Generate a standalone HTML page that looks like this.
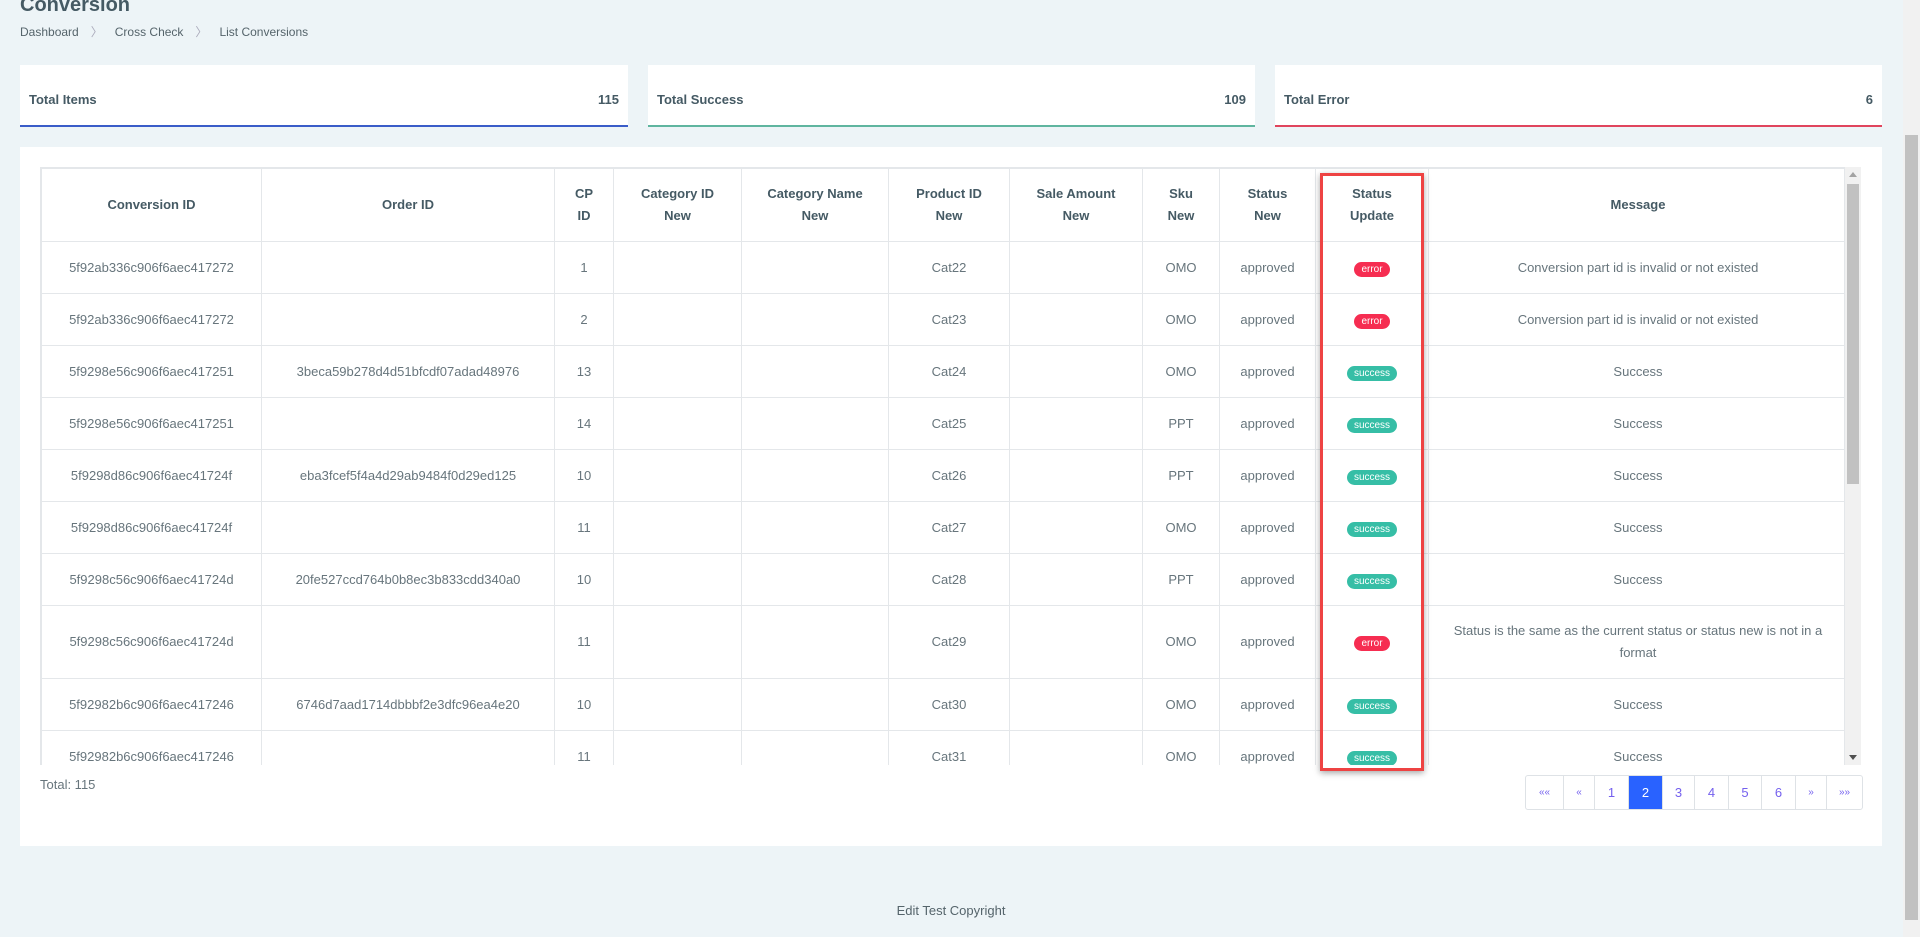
<!DOCTYPE html>
<html><head><meta charset="utf-8"><style>
*{box-sizing:border-box;margin:0;padding:0}
body{width:1920px;height:937px;background:#edf4f7;font-family:"Liberation Sans",sans-serif;color:#67757c;position:relative;overflow:hidden}
.abs{position:absolute}
.title{left:20px;top:-6px;font-size:20px;color:#455a64;font-weight:bold}
.bc{left:20px;top:23px;font-size:12px;color:#55646b}
.bc span{margin:0 12px;color:#aab}
.card{top:65px;height:62px;background:#fff;font-size:13px;color:#455a64;font-weight:bold;display:flex;justify-content:space-between;align-items:center;padding:8px 9px 0}
.main{left:20px;top:147px;width:1862px;height:699px;background:#fff}
.tw{left:40px;top:167px;width:1805px;height:598px;overflow:hidden;border:1px solid #e4e7ea;border-bottom:none}
table{border-collapse:collapse;table-layout:fixed;width:1806px;font-size:13px}
td,th{border:1px solid #e4e7ea;text-align:center;vertical-align:middle;padding:0 8px;line-height:22px}
th{color:#455a64;font-weight:bold;height:73px}
tr.r td{height:52px}
tr.t td{height:73px}
.b{display:inline-block;border-radius:10px;color:#fff;font-size:10px;line-height:15px;padding:0 7px}
.e{background:#f62d51}.s{background:#36bea6}
.sb{left:1845px;top:167px;width:16px;height:598px;background:#f1f1f1}
.redbox{left:1320px;top:173px;width:104px;height:598px;border:3px solid #ee4343;box-shadow:0 2px 6px rgba(0,0,0,.35)}
.pg{left:1525px;top:775px;height:35px;display:flex;border:1px solid #dee2e6;border-radius:3px;font-size:13px}
.pg div{border-left:1px solid #dee2e6;display:flex;align-items:center;justify-content:center;color:#7460ee}
.pg div:first-child{border-left:none}
</style></head><body>
<div class="abs title">Conversion</div>
<div class="abs bc">Dashboard<span>〉</span>Cross Check<span>〉</span>List Conversions</div>
<div class="abs card" style="left:20px;width:608px;border-bottom:2px solid #3a5cc8"><span>Total Items</span><span>115</span></div>
<div class="abs card" style="left:648px;width:607px;border-bottom:2px solid #5fb59f"><span>Total Success</span><span>109</span></div>
<div class="abs card" style="left:1275px;width:607px;border-bottom:2px solid #e0455d"><span>Total Error</span><span>6</span></div>
<div class="abs main"></div>
<div class="abs tw"><table>
<colgroup><col style="width:220px"><col style="width:293px"><col style="width:59px"><col style="width:128px"><col style="width:147px"><col style="width:121px"><col style="width:133px"><col style="width:77px"><col style="width:96px"><col style="width:113px"><col style="width:419px"></colgroup>
<tr><th>Conversion ID</th><th>Order ID</th><th>CP<br>ID</th><th>Category ID<br>New</th><th>Category Name<br>New</th><th>Product ID<br>New</th><th>Sale Amount<br>New</th><th>Sku<br>New</th><th>Status<br>New</th><th>Status<br>Update</th><th>Message</th></tr>
<tr class="r"><td>5f92ab336c906f6aec417272</td><td></td><td>1</td><td></td><td></td><td>Cat22</td><td></td><td>OMO</td><td>approved</td><td><span class="b e">error</span></td><td>Conversion part id is invalid or not existed</td></tr>
<tr class="r"><td>5f92ab336c906f6aec417272</td><td></td><td>2</td><td></td><td></td><td>Cat23</td><td></td><td>OMO</td><td>approved</td><td><span class="b e">error</span></td><td>Conversion part id is invalid or not existed</td></tr>
<tr class="r"><td>5f9298e56c906f6aec417251</td><td>3beca59b278d4d51bfcdf07adad48976</td><td>13</td><td></td><td></td><td>Cat24</td><td></td><td>OMO</td><td>approved</td><td><span class="b s">success</span></td><td>Success</td></tr>
<tr class="r"><td>5f9298e56c906f6aec417251</td><td></td><td>14</td><td></td><td></td><td>Cat25</td><td></td><td>PPT</td><td>approved</td><td><span class="b s">success</span></td><td>Success</td></tr>
<tr class="r"><td>5f9298d86c906f6aec41724f</td><td>eba3fcef5f4a4d29ab9484f0d29ed125</td><td>10</td><td></td><td></td><td>Cat26</td><td></td><td>PPT</td><td>approved</td><td><span class="b s">success</span></td><td>Success</td></tr>
<tr class="r"><td>5f9298d86c906f6aec41724f</td><td></td><td>11</td><td></td><td></td><td>Cat27</td><td></td><td>OMO</td><td>approved</td><td><span class="b s">success</span></td><td>Success</td></tr>
<tr class="r"><td>5f9298c56c906f6aec41724d</td><td>20fe527ccd764b0b8ec3b833cdd340a0</td><td>10</td><td></td><td></td><td>Cat28</td><td></td><td>PPT</td><td>approved</td><td><span class="b s">success</span></td><td>Success</td></tr>
<tr class="t"><td>5f9298c56c906f6aec41724d</td><td></td><td>11</td><td></td><td></td><td>Cat29</td><td></td><td>OMO</td><td>approved</td><td><span class="b e">error</span></td><td>Status is the same as the current status or status new is not in a format</td></tr>
<tr class="r"><td>5f92982b6c906f6aec417246</td><td>6746d7aad1714dbbbf2e3dfc96ea4e20</td><td>10</td><td></td><td></td><td>Cat30</td><td></td><td>OMO</td><td>approved</td><td><span class="b s">success</span></td><td>Success</td></tr>
<tr class="r"><td>5f92982b6c906f6aec417246</td><td></td><td>11</td><td></td><td></td><td>Cat31</td><td></td><td>OMO</td><td>approved</td><td><span class="b s">success</span></td><td>Success</td></tr>
</table></div>
<div class="abs sb"><div class="abs" style="left:4px;top:5px;border:4px solid transparent;border-bottom:5px solid #a3a3a3;border-top:none"></div><div class="abs" style="left:2px;top:17px;width:12px;height:300px;background:#c1c1c1"></div><div class="abs" style="left:4px;top:588px;border:4px solid transparent;border-top:5px solid #505050;border-bottom:none"></div></div>
<div class="abs redbox"></div>
<div class="abs" style="left:40px;top:777px;font-size:13px">Total: 115</div>
<div class="abs pg">
<div style="width:37px;font-size:10px">««</div><div style="width:31px;font-size:10px">«</div><div style="width:34px">1</div><div style="width:34px;background:#2962ff;color:#fff">2</div><div style="width:32px">3</div><div style="width:34px">4</div><div style="width:33px">5</div><div style="width:34px">6</div><div style="width:31px;font-size:10px">»</div><div style="width:36px;font-size:10px">»»</div>
</div>
<div class="abs" style="left:0;width:1902px;top:903px;text-align:center;font-size:13px;color:#55646b">Edit Test Copyright</div>
<div class="abs" style="left:1903px;top:0;width:17px;height:937px;background:#f1f1f1"><div class="abs" style="left:2px;top:135px;width:13px;height:785px;background:#c1c1c1"></div></div>
</body></html>
